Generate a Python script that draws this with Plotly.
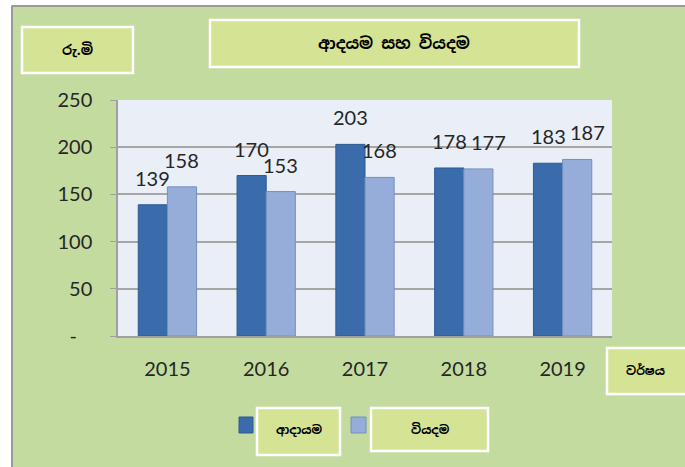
import plotly.graph_objects as go

years = ["2015", "2016", "2017", "2018", "2019"]
income = [139, 170, 203, 178, 183]
expense = [158, 153, 168, 177, 187]
series_names = ["ආදායම", "වියදම"]
title_text = "ආදයම සහ වියදම"
unit_text = "රු.මි"
xlabel_text = "වර්ෂය"
y_tickvals = [0, 50, 100, 150, 200, 250]
y_ticktext = ["-\u00a0\u00a0\u00a0", "50", "100", "150", "200", "250"]

W, H = 685, 467
L, R, T, B = 118, 612, 100, 336
DARK, DARK_LINE = "#3a6cab", "#2d5b93"
LIGHT, LIGHT_LINE = "#95add8", "#7390c2"
GREEN = "#c4db9f"
BOXFILL = "#d4e394"
TXT = "#262626"
SIN = "Noto Sans Sinhala, Noto Sans, DejaVu Sans, sans-serif"
NUM = "Lato, Noto Sans, sans-serif"


def px(x):
    return (x - L) / (R - L)


def py(y):
    return (B - y) / (B - T)


fig = go.Figure()
fig.add_trace(go.Bar(x=years, y=income, name=series_names[0], marker=dict(color=DARK, line=dict(color=DARK_LINE, width=1))))
fig.add_trace(go.Bar(x=years, y=expense, name=series_names[1], marker=dict(color=LIGHT, line=dict(color=LIGHT_LINE, width=1))))

shapes = []
# white outside area + grey frame
shapes.append(dict(type="rect", xref="paper", yref="paper", x0=px(-5), x1=px(11), y0=py(480), y1=py(-5), fillcolor="white", line_width=0, layer="below"))
shapes.append(dict(type="rect", xref="paper", yref="paper", x0=px(-5), x1=px(700), y0=py(5), y1=py(-5), fillcolor="white", line_width=0, layer="below"))
shapes.append(dict(type="line", xref="paper", yref="paper", x0=px(12), x1=px(12), y0=py(6), y1=py(480), line=dict(color="#9a9a9a", width=2)))
shapes.append(dict(type="line", xref="paper", yref="paper", x0=px(12), x1=px(700), y0=py(6), y1=py(6), line=dict(color="#9a9a9a", width=2)))


def box(x0, y0, x1, y1):
    shapes.append(dict(type="rect", xref="paper", yref="paper", x0=px(x0), x1=px(x1), y0=py(y1), y1=py(y0),
                       fillcolor=BOXFILL, line=dict(color="white", width=2.5)))


box(22, 27, 133, 73)
box(210, 20, 579, 67)
box(607, 348, 695, 394)
box(257, 408, 340, 455)
box(371, 408, 488, 451)
# legend squares
shapes.append(dict(type="rect", xref="paper", yref="paper", x0=px(239), x1=px(253), y0=py(433), y1=py(417), fillcolor=DARK, line=dict(color=DARK_LINE, width=1)))
shapes.append(dict(type="rect", xref="paper", yref="paper", x0=px(351), x1=px(366), y0=py(433), y1=py(417), fillcolor=LIGHT, line=dict(color=LIGHT_LINE, width=1)))

ann = []


def label(text, x, y, size):
    ann.append(dict(text="<b>" + text + "</b>", xref="paper", yref="paper", x=px(x), y=py(y), showarrow=False,
                    xanchor="center", yanchor="middle", font=dict(family=SIN, size=size, color="black")))


label(unit_text, 77, 50, 14)
label(title_text, 394, 44, 16)
label(xlabel_text, 645, 371, 12)
label(series_names[0], 299, 430, 12)
label(series_names[1], 430, 429, 12)

for i in range(len(years)):
    close = abs(income[i] - expense[i]) < 10
    for v, sh in ((income[i], -14.5), (expense[i], 14.5 + (10 if close else 0))):
        ann.append(dict(text=str(v), x=i, y=v, xref="x", yref="y", showarrow=False, xshift=sh, yshift=13,
                        yanchor="bottom", xanchor="center", font=dict(family=NUM, size=20, color=TXT)))

fig.update_layout(
    width=W, height=H, margin=dict(l=L, r=W - R, t=T, b=H - B),
    paper_bgcolor=GREEN, plot_bgcolor="#e9eef7",
    barmode="group", bargap=0.41, bargroupgap=0,
    showlegend=False, shapes=shapes, annotations=ann,
    xaxis=dict(type="category", range=[-0.5, len(years) - 0.5], showline=True, linecolor="#a0a0a0", linewidth=1.5,
               ticks="", showgrid=False, tickfont=dict(family=NUM, size=20, color=TXT), ticklabelstandoff=14),
    yaxis=dict(range=[0, 250], tickvals=y_tickvals, ticktext=y_ticktext, showline=True, linecolor="#a0a0a0",
               linewidth=1.5, ticks="outside", ticklen=6, tickcolor="#a0a0a0", gridcolor="#a6a6a6", gridwidth=1.5,
               tickfont=dict(family=NUM, size=20, color=TXT), ticklabelstandoff=14, zeroline=False),
)
fig.write_html("out.html", config={"displayModeBar": False}, post_script="document.body.style.margin='0px';")
